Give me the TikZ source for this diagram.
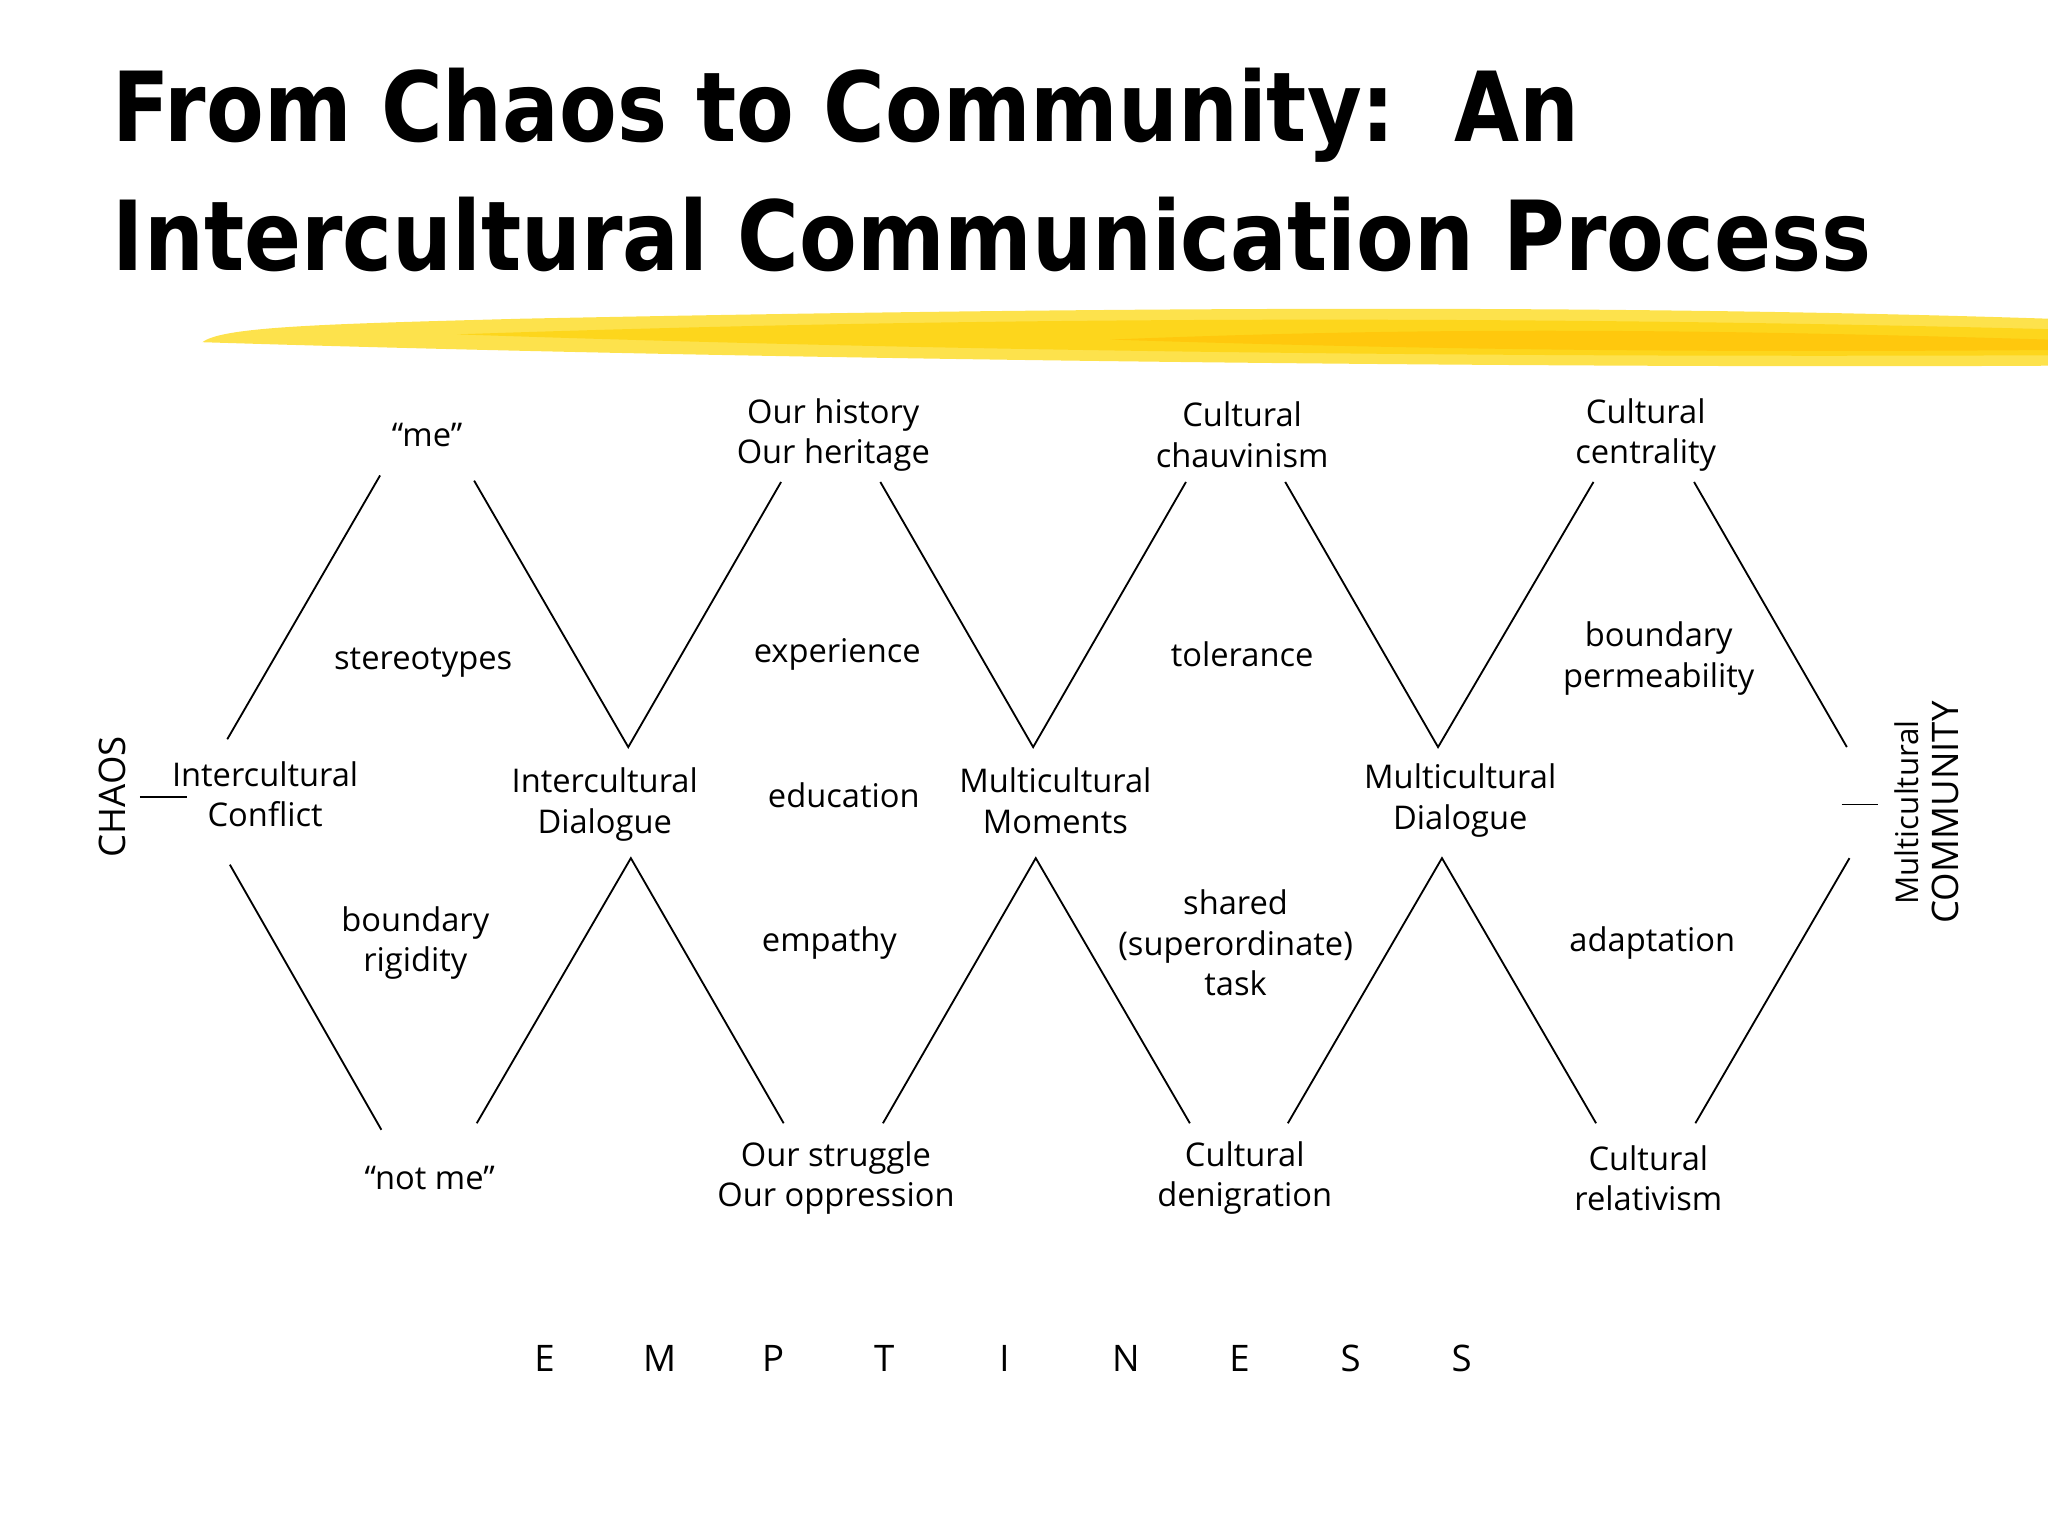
\documentclass[tikz,border=0pt]{standalone}
\usepackage{fontspec}
\setmainfont{Open Sans}
\newfontfamily\titlefont{DejaVu Sans}
\begin{document}
\begin{tikzpicture}[x=0.5pt,y=-0.5pt,
  lbl/.style={font=\fontsize{12.5}{15.5}\selectfont,align=center,inner sep=0pt},
  zz/.style={line width=0.7pt,black}]
\useasboundingbox (0,0) rectangle (1568,1176);
% title
\node[anchor=base west,inner sep=0pt,font=\titlefont\bfseries\fontsize{37}{40}\selectfont] (t1) at (86,108) {\scalebox{0.87}[1]{From Chaos to Community:\ \ An}};
\node[anchor=base west,inner sep=0pt,font=\titlefont\bfseries\fontsize{37}{40}\selectfont] (t2) at (86,207) {\scalebox{0.87}[1]{Intercultural Communication Process}};
% brush stroke
\fill[yellow!75!orange!70] (155,262) .. controls (170,250) and (250,248) .. (400,244) .. controls (800,236) and (1200,232) .. (1568,244) -- (1568,280) .. controls (1200,282) and (600,276) .. (155,262) -- cycle;
\fill[yellow!70!orange!90] (350,256) .. controls (700,244) and (1100,240) .. (1568,252) -- (1568,272) .. controls (1100,274) and (700,268) .. (350,256) -- cycle;
\fill[orange!45!yellow!95] (850,260) .. controls (1100,250) and (1300,252) .. (1568,260) -- (1568,268) .. controls (1300,270) and (1100,268) .. (850,260) -- cycle;
% coordinates
\foreach \n/\x/\y in {a1/174/566,a2/291/364,a3/363/368,a4/481/572,a5/598/369,a6/674/369,a7/791/572,a8/908/369,a9/984/369,a10/1101/572,a11/1220/369,a12/1297/369,a13/1414/572,
 b1/176/662,b2/292/865,b3/365/860,b4/483/657,b5/600/860,b6/676/860,b7/793/657,b8/911/860,b9/986/860,b10/1104/657,b11/1222/860,b12/1298/860,b13/1416/657,
 c1/107/610,c2/143/610,d1/1410/616,d2/1438/616}
  \coordinate (\n) at (\x,\y);
\draw[zz] (a1)--(a2) (a3)--(a4)--(a5) (a6)--(a7)--(a8) (a9)--(a10)--(a11) (a12)--(a13);
\draw[zz] (b1)--(b2) (b3)--(b4)--(b5) (b6)--(b7)--(b8) (b9)--(b10)--(b11) (b12)--(b13);
\draw[zz] (c1)--(c2) (d1)--(d2);
% labels
\node[lbl] (n1) at (327,333) {“me”};
\node[lbl] (n2) at (638,333) {Our history\\Our heritage};
\node[lbl] (n3) at (951,333) {Cultural\\chauvinism};
\node[lbl] (n4) at (1260,333) {Cultural\\centrality};
\node[lbl] (n5) at (324,507) {stereotypes};
\node[lbl] (n6) at (641,501) {experience};
\node[lbl] (n7) at (951,501) {tolerance};
\node[lbl] (n8) at (1270,504) {boundary\\permeability};
\node[lbl] (n9) at (203,608) {Intercultural\\Conflict};
\node[lbl] (n10) at (463,616) {Intercultural\\Dialogue};
\node[lbl] (n11) at (646,609) {education};
\node[lbl] (n12) at (808,613) {Multicultural\\Moments};
\node[lbl] (n13) at (1118,613) {Multicultural\\Dialogue};
\node[lbl] (n14) at (318,722) {boundary\\rigidity};
\node[lbl] (n15) at (635,722) {empathy};
\node[lbl] (n16) at (946,722) {shared\\(superordinate)\\task};
\node[lbl] (n17) at (1265,722) {adaptation};
\node[lbl] (n18) at (329,902) {“not me”};
\node[lbl] (n19) at (640,902) {Our struggle\\Our oppression};
\node[lbl] (n20) at (953,902) {Cultural\\denigration};
\node[lbl] (n21) at (1262,902) {Cultural\\relativism};
\node[lbl,rotate=90,font=\fontsize{14}{16}\selectfont] (ch) at (86,610) {CHAOS};
\node[lbl,rotate=90] (mc) at (1475,622) {\fontsize{12}{15}\selectfont Multicultural\\\fontsize{14}{16}\selectfont COMMUNITY};
\foreach \l [count=\i] in {E,M,P,T,I,N,E,S,S}{
  \pgfmathsetmacro{\xx}{{417,505,592,677,769,862,949,1034,1119}[\i-1]}
  \node[lbl,font=\fontsize{14}{16}\selectfont] (e\i) at (\xx,1040) {\l};}
\end{tikzpicture}
\end{document}
